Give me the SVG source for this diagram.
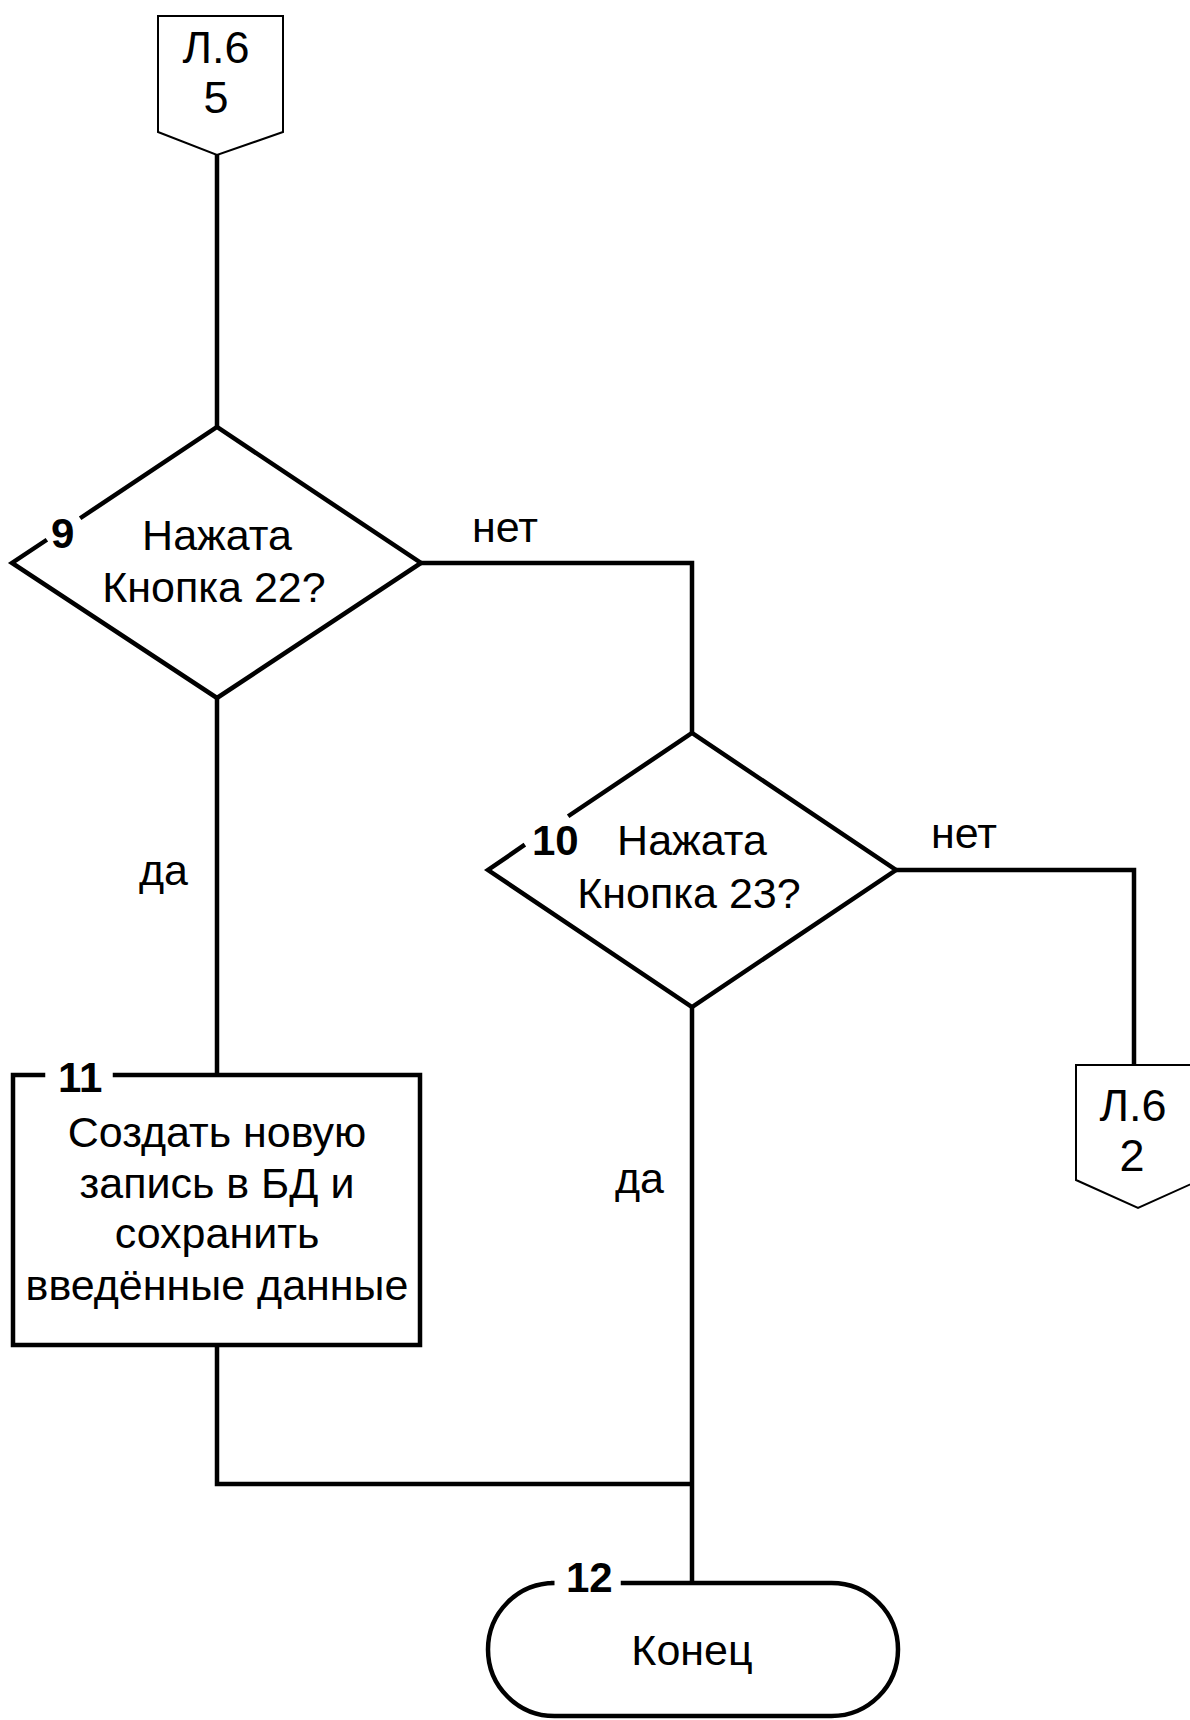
<svg xmlns="http://www.w3.org/2000/svg" width="1190" height="1720" viewBox="0 0 1190 1720">
<style>
.bg{fill:#ffffff}
.shape{fill:none;stroke:#000;stroke-width:4.5;stroke-linejoin:miter;stroke-linecap:square}
.conn{fill:#fff;stroke:#000;stroke-width:2;stroke-linejoin:miter}
.edge{fill:none;stroke:#000;stroke-width:4.5;stroke-linejoin:miter;stroke-linecap:butt}
text{font-family:"Liberation Sans",Arial,sans-serif;font-size:43px;fill:#000}
.c{text-anchor:middle}
.num{font-weight:bold;font-size:42px}
.ct{font-size:45px}
</style>
<rect class="bg" x="0" y="0" width="1190" height="1720"/>
<g id="connectors">
<polyline class="edge" points="217,152 217,427"/>
<polyline class="edge" points="217,698 217,1075"/>
<polyline class="edge" points="421,563 692,563 692,733"/>
<polyline class="edge" points="896,870 1134,870 1134,1073"/>
<polyline class="edge" points="692,1007 692,1583"/>
<polyline class="edge" points="217,1345 217,1484 692,1484"/>
<text x="472" y="542">нет</text>
<text x="931" y="848">нет</text>
<text x="139" y="885">да</text>
<text x="615" y="1193">да</text>
</g>
<g id="connector-top">
<polygon class="conn" points="158,16 283,16 283,132 217,155 158,132"/>
<text class="c ct" x="216" y="63">Л.6</text>
<text class="c ct" x="216" y="113">5</text>
</g>
<g id="node9">
<path class="shape" d="M45,541 L12,563 L217,698 L421,563 L217,427 L82,517"/>
<text class="num" x="51" y="548">9</text>
<text class="c" x="217" y="550">Нажата</text>
<text class="c" x="214" y="602">Кнопка 22?</text>
</g>
<g id="node10">
<path class="shape" d="M523,846 L488,870 L692,1007 L896,870 L692,733 L570,815"/>
<text class="num" x="532" y="855">10</text>
<text class="c" x="692" y="855">Нажата</text>
<text class="c" x="689" y="908">Кнопка 23?</text>
</g>
<g id="node11">
<path class="shape" d="M43,1075 L13,1075 L13,1345 L420,1345 L420,1075 L115,1075"/>
<text class="num" x="58" y="1092">11</text>
<text class="c" x="217" y="1147">Создать новую</text>
<text class="c" x="217" y="1198">запись в БД и</text>
<text class="c" x="217" y="1248">сохранить</text>
<text class="c" x="217" y="1300">введённые данные</text>
</g>
<g id="connector-right">
<polygon class="conn" points="1076,1065 1200,1065 1200,1180 1138,1208 1076,1180"/>
<text class="c ct" x="1133" y="1121">Л.6</text>
<text class="c ct" x="1132" y="1171">2</text>
</g>
<g id="node12">
<path class="shape" d="M553,1583 L554.5,1583 A66.5,66.5 0 0 0 554.5,1716 L831.5,1716 A66.5,66.5 0 0 0 831.5,1583 L623,1583"/>
<text class="num" x="566" y="1592">12</text>
<text class="c" x="692" y="1665">Конец</text>
</g>
</svg>
